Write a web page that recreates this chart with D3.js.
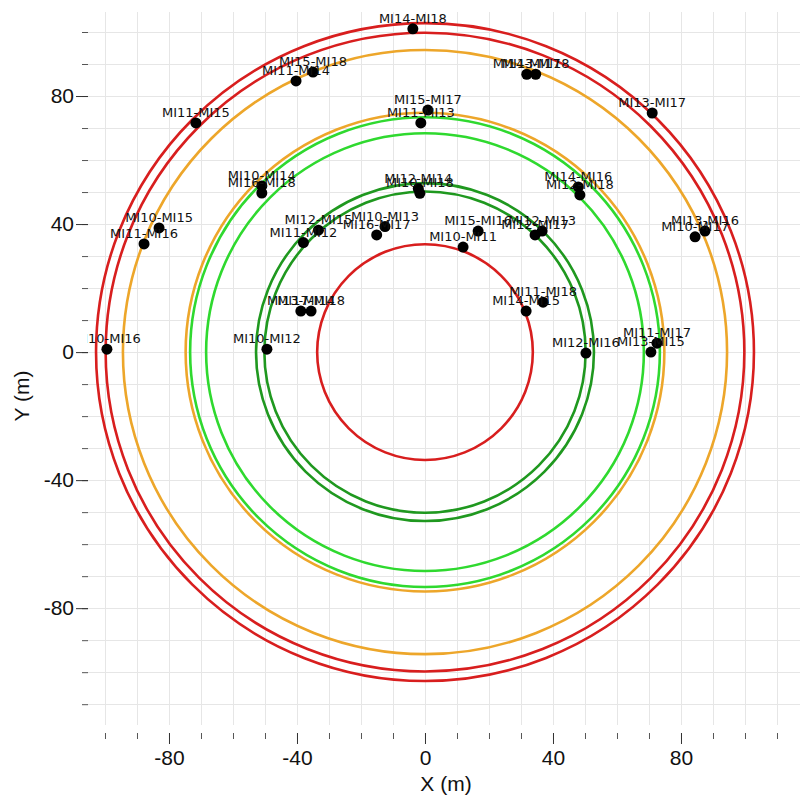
<!DOCTYPE html>
<html>
<head>
<meta charset="utf-8">
<script src="https://cdn.jsdelivr.net/npm/d3@7"></script>
<style>
  body { margin: 0; background: #fff; }
  svg { display: block; }
</style>
</head>
<body>
<div id="chart"></div>
<script>
// station pair distances (m)
const pairLabels = ["MI14-MI18", "MI15-MI18", "MI11-MI14", "MI11-MI15", "MI10-MI14", "MI16-MI18",
  "MI10-MI15", "MI11-MI16", "MI10-MI16", "MI10-MI12", "MI13-MI14", "MI17-MI18",
  "MI12-MI15", "MI11-MI12", "MI10-MI13", "MI16-MI17", "MI15-MI17", "MI11-MI13",
  "MI12-MI14", "MI10-MI18", "MI14-MI16", "MI12-MI18", "MI15-MI16", "MI10-MI11",
  "MI12-MI13", "MI12-MI17", "MI11-MI18", "MI14-MI15", "MI12-MI16", "MI11-MI17",
  "MI13-MI15", "MI13-MI16", "MI10-MI17", "MI13-MI17", "MI14-MI17", "MI13-MI18"];
const pairX = [-3.8, -35, -40.3, -71.6, -51, -51,
  -83.1, -87.8, -99.4, -49.4, -38.8, -35.6,
  -33.3, -38, -12.5, -15.1, 0.9, -1.3,
  -2.1, -1.6, 47.9, 48.4, 16.6, 11.9,
  36.6, 34.4, 36.9, 31.6, 50.3, 72.5,
  70.6, 87.5, 84.4, 71, 31.8, 34.6];
const pairY = [101, 87.5, 84.7, 71.6, 51.9, 49.7,
  38.8, 33.8, 0.9, 0.9, 12.8, 12.8,
  38.1, 34.2, 39.2, 36.6, 75.6, 71.6,
  51.1, 49.6, 51.6, 49.1, 37.8, 32.8,
  37.8, 36.6, 15.6, 12.8, -0.3, 2.8,
  0, 37.8, 36, 74.7, 86.8, 86.8];

// distance rings round the origin
const ringRadii = [102.8, 99.8, 94.4, 74.8, 73.4, 68.4, 52.8, 50.2, 33.7];
const ringKind = ["red", "red", "orange", "orange", "lime", "lime", "green", "green", "red"];

const gridValues = [-110, -100, -90, -80, -70, -60, -50, -40, -30, -20, -10, 0,
  10, 20, 30, 40, 50, 60, 70, 80, 90, 100, 110];
const majorTicks = [-80, -40, 0, 40, 80];

const width = 800, height = 799;
const plot = { left: 87, right: 800, top: 12, bottom: 725 };

const kindColor = {
  red: "#d81e1e",
  orange: "#eda62a",
  lime: "#2fd92f",
  green: "#1f981f"
};

const x = d3.scaleLinear().domain([-105.625, 117.19]).range([plot.left, plot.right]);
const y = d3.scaleLinear().domain([-116.5, 106.25]).range([plot.bottom, plot.top]);

const svg = d3.select("#chart").append("svg")
  .attr("width", width)
  .attr("height", height)
  .style("font-family", "'Liberation Sans', Arial, sans-serif");

svg.append("defs").append("clipPath").attr("id", "plotClip")
  .append("rect")
  .attr("x", plot.left).attr("y", plot.top)
  .attr("width", plot.right - plot.left)
  .attr("height", plot.bottom - plot.top);

// grid
const grid = svg.append("g").attr("stroke", "#e6e6e6").attr("stroke-width", 1);
grid.selectAll(".vg").data(gridValues.filter(v => v >= -100))
  .join("line")
  .attr("x1", d => Math.round(x(d)) + 0.5).attr("x2", d => Math.round(x(d)) + 0.5)
  .attr("y1", plot.top).attr("y2", plot.bottom);
grid.selectAll(".hg").data(gridValues.filter(v => v <= 100))
  .join("line")
  .attr("y1", d => Math.round(y(d)) + 0.5).attr("y2", d => Math.round(y(d)) + 0.5)
  .attr("x1", plot.left).attr("x2", plot.right);

// plain hyphen like the original, not the unicode minus
const fmt = d => String(d);

// axes, ticks only (no domain line)
const xAxis = d3.axisBottom(x).tickValues(gridValues.filter(v => v >= -100))
  .tickSize(6).tickFormat("");
svg.append("g").attr("transform", `translate(0,${plot.bottom + 8})`)
  .call(xAxis)
  .call(g => g.select(".domain").remove())
  .call(g => g.selectAll("line").attr("stroke", "#555"));
svg.append("g").attr("transform", `translate(0,${plot.bottom + 8})`)
  .call(d3.axisBottom(x).tickValues(majorTicks).tickSize(11).tickPadding(6).tickFormat(fmt))
  .call(g => g.select(".domain").remove())
  .call(g => g.selectAll("line").attr("stroke", "#333"))
  .call(g => g.selectAll("text").attr("font-size", 21).attr("fill", "#111")
    .attr("font-family", "'Liberation Sans', Arial, sans-serif"));

const yAxis = d3.axisLeft(y).tickValues(gridValues.filter(v => v <= 100))
  .tickSize(6).tickFormat("");
svg.append("g").attr("transform", `translate(${plot.left + 1},0)`)
  .call(yAxis)
  .call(g => g.select(".domain").remove())
  .call(g => g.selectAll("line").attr("stroke", "#555"));
svg.append("g").attr("transform", `translate(${plot.left + 1},0)`)
  .call(d3.axisLeft(y).tickValues(majorTicks).tickSize(12).tickPadding(2).tickFormat(fmt))
  .call(g => g.select(".domain").remove())
  .call(g => g.selectAll("line").attr("stroke", "#333"))
  .call(g => g.selectAll("text").attr("font-size", 21).attr("fill", "#111")
    .attr("font-family", "'Liberation Sans', Arial, sans-serif"));

// axis titles
svg.append("text")
  .attr("x", 446).attr("y", 791)
  .attr("text-anchor", "middle")
  .attr("font-size", 21)
  .attr("fill", "#111")
  .text("X (m)");
svg.append("text")
  .attr("transform", "translate(29,396) rotate(-90)")
  .attr("text-anchor", "middle")
  .attr("font-size", 21)
  .attr("fill", "#111")
  .text("Y (m)");

const area = svg.append("g").attr("clip-path", "url(#plotClip)");

// rings
area.append("g").selectAll("circle")
  .data(ringRadii)
  .join("circle")
  .attr("cx", x(0))
  .attr("cy", y(0))
  .attr("r", d => x(d) - x(0))
  .attr("fill", "none")
  .attr("stroke", (d, i) => kindColor[ringKind[i]])
  .attr("stroke-width", 2.6);

const pts = pairLabels.map((name, i) => ({ name: name, x: pairX[i], y: pairY[i] }));

area.append("g").selectAll("circle")
  .data(pts)
  .join("circle")
  .attr("cx", d => x(d.x))
  .attr("cy", d => y(d.y))
  .attr("r", 5.5)
  .attr("fill", "#000");

area.append("g").selectAll("text")
  .data(pts)
  .join("text")
  .attr("x", d => x(d.x))
  .attr("y", d => y(d.y) - 6)
  .attr("text-anchor", "middle")
  .attr("font-family", "'DejaVu Sans', Verdana, sans-serif")
  .attr("font-size", 13)
  .attr("fill", "#111")
  .text(d => d.name);
</script>
</body>
</html>
